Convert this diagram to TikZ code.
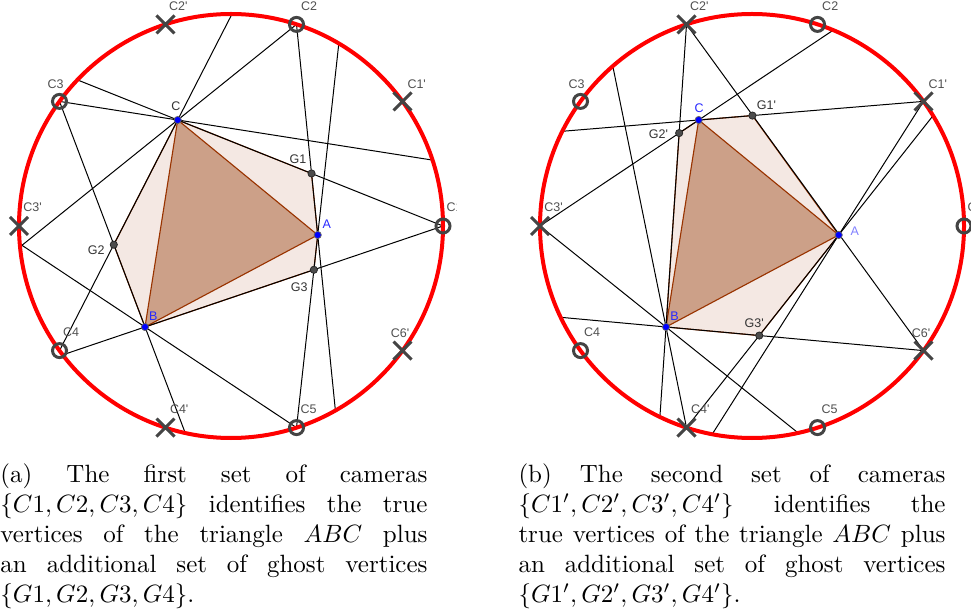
\documentclass[tikz,border=0pt]{standalone}
\usepackage{fontspec}
\usepackage{tikz}
\usetikzlibrary{calc,shapes.misc}
\newfontfamily\geofont{Liberation Sans}
\definecolor{polybrown}{RGB}{153,51,0}
\definecolor{trifill}{RGB}{204,160,136}
\definecolor{ghostfill}{RGB}{244,232,227}
\definecolor{markgray}{RGB}{68,68,68}
\definecolor{lblgray}{RGB}{80,80,80}
\definecolor{vertblue}{RGB}{40,40,255}
\newcommand{\pr}{\textquotesingle}
% camera spots on the ring (same for both panels)
\newcommand{\camspots}{%
  \coordinate (O) at (231,226);
  \coordinate (c1) at (443,226);
  \coordinate (c1x) at (402.5,101.4);
  \coordinate (c2) at (296.5,24.4);
  \coordinate (c2x) at (165.5,24.4);
  \coordinate (c3) at (59.5,101.4);
  \coordinate (c3x) at (19,226);
  \coordinate (c4) at (59.5,350.6);
  \coordinate (c4x) at (165.5,427.6);
  \coordinate (c5) at (296.5,427.6);
  \coordinate (c6x) at (402.5,350.6);
  \coordinate (A) at (317.7,235);
  \coordinate (B) at (145,327);
  \coordinate (C) at (177.7,120);
}
\newcommand{\camring}{%
  \draw[rim] (O) circle[radius=212];
  \node[camo] (k1) at (c1) {};
  \node[camx] (k1x) at (c1x) {};
  \node[camo] (k2) at (c2) {};
  \node[camx] (k2x) at (c2x) {};
  \node[camo] (k3) at (c3) {};
  \node[camx] (k3x) at (c3x) {};
  \node[camo] (k4) at (c4) {};
  \node[camx] (k4x) at (c4x) {};
  \node[camo] (k5) at (c5) {};
  \node[camx] (k6x) at (c6x) {};
  \node[lbl] (n1) at ($(c1)+(11.5,-18.5)$) {C1};
  \node[lbl] (n1x) at ($(c1x)+(14.2,-17.4)$) {C1\pr};
  \node[lbl] (n2) at ($(c2)+(12.7,-18)$) {C2};
  \node[lbl] (n2x) at ($(c2x)+(12.8,-17.7)$) {C2\pr};
  \node[lbl] (n3) at ($(c3)+(-4,-17.4)$) {C3};
  \node[lbl] (n3x) at ($(c3x)+(13.5,-18.3)$) {C3\pr};
  \node[lbl] (n4) at ($(c4)+(11.7,-18.6)$) {C4};
  \node[lbl] (n4x) at ($(c4x)+(13.7,-18.9)$) {C4\pr};
  \node[lbl] (n5) at ($(c5)+(12,-18.9)$) {C5};
  \node[lbl] (n6x) at ($(c6x)+(-2.5,-17.3)$) {C6\pr};
}

\begin{document}
\begin{tikzpicture}[x=0.4pt, y=-0.4pt,
    rim/.style={draw=red, line width=1.6pt},
    ray/.style={draw=black, line width=0.4pt},
    hexa/.style={fill=ghostfill, draw=polybrown, line width=0.45pt},
    tri/.style={fill=trifill, draw=polybrown, line width=0.45pt},
    camo/.style={circle, draw=markgray, line width=1.2pt, inner sep=0pt, minimum size=5.6pt},
    camx/.style={cross out, draw=markgray, line width=1.2pt, inner sep=0pt, minimum size=6pt},
    truept/.style={circle, fill=blue, draw=black!60, line width=0.3pt, inner sep=0pt, minimum size=2.9pt},
    ghostpt/.style={circle, fill=black!70, draw=black!85, line width=0.3pt, inner sep=0pt, minimum size=2.9pt},
    lbl/.style={font=\geofont\fontsize{5pt}{6pt}\selectfont, text=lblgray, inner sep=0pt},
    vlbl/.style={lbl, text=vertblue},
    capbox/.style={anchor=north west, text width=170.8pt, align=justify, inner sep=0pt, font=\fontsize{10pt}{12pt}\selectfont},
]
    \useasboundingbox (0,0) rectangle (971,611);

    % (a) first set of cameras
    \begin{scope}[name prefix=L-]
        \clip (0,0) rectangle (456.5,450);
        \camspots
        \coordinate (G1) at (intersection of c1--C and c2--A);
        \coordinate (G2) at (intersection of c4--C and c3--B);
        \coordinate (G3) at (intersection of c5--A and c1--B);
        % ray ends on the ring
        \coordinate (e1) at (77.4,79.9);
        \coordinate (e2) at (20.1,246.8);
        \coordinate (e3) at (335.4,410.6);
        \coordinate (e4) at (432.5,160.1);
        \coordinate (e5) at (232.0,14.0);
        \coordinate (e6) at (338.8,43.6);
        \coordinate (e7) at (62.6,354.9);
        \coordinate (e8) at (19.7,243.8);
        \coordinate (e9) at (185.2,432.9);

        \draw[hexa] (C) -- (G1) -- (A) -- (G3) -- (B) -- (G2) -- cycle;
        \draw[tri] (A) -- (B) -- (C) -- cycle;

        \draw[ray] (c1) -- (e1);
        \draw[ray] (c2) -- (e2);
        \draw[ray] (c2) -- (e3);
        \draw[ray] (c3) -- (e4);
        \draw[ray] (c4) -- (e5);
        \draw[ray] (c5) -- (e6);
        \draw[ray] (c1) -- (e7);
        \draw[ray] (c5) -- (e8);
        \draw[ray] (c3) -- (e9);

        \camring

        \node[ghostpt] (p1) at (G1) {};
        \node[ghostpt] (p2) at (G2) {};
        \node[ghostpt] (p3) at (G3) {};
        \node[truept] (pA) at (A) {};
        \node[truept] (pB) at (B) {};
        \node[truept] (pC) at (C) {};
        \node[lbl, text=black!80] (g1) at ($(G1)+(-13.5,-14.7)$) {G1};
        \node[lbl, text=black!80] (g2) at ($(G2)+(-17.6,5.3)$) {G2};
        \node[lbl, text=black!80] (g3) at ($(G3)+(-14.7,17.4)$) {G3};
        \node[vlbl] (la) at ($(A)+(9,-10.3)$) {A};
        \node[vlbl] (lb) at ($(B)+(8.3,-10.7)$) {B};
        \node[lbl, text=black!80] (lc) at ($(C)+(-1.9,-14.2)$) {C};
    \end{scope}

    % (b) second set of cameras
    \begin{scope}[shift={(521,0)}, name prefix=R-]
        \camspots
        \coordinate (G1) at (intersection of c1x--C and c2x--A);
        \coordinate (G2) at (intersection of c3x--C and c2x--B);
        \coordinate (G3) at (intersection of c4x--A and c6x--B);
        % ray ends on the ring
        \coordinate (f2) at (41.3,131.3);
        \coordinate (f3) at (312.2,30.2);
        \coordinate (f4) at (138.9,416.9);
        \coordinate (f5) at (91.8,66.2);
        \coordinate (f6) at (191.2,434.2);
        \coordinate (f7) at (412.0,115.7);
        \coordinate (f8) at (277.1,432.9);
        \coordinate (f9) at (39.6,317.3);

        \draw[hexa] (C) -- (G1) -- (A) -- (G3) -- (B) -- (G2) -- cycle;
        \draw[tri] (A) -- (B) -- (C) -- cycle;

        \draw[ray] (c2x) -- (c6x);
        \draw[ray] (c1x) -- (f2);
        \draw[ray] (c3x) -- (f3);
        \draw[ray] (c2x) -- (f4);
        \draw[ray] (c4x) -- (f5);
        \draw[ray] (c1x) -- (f6);
        \draw[ray] (c4x) -- (f7);
        \draw[ray] (c3x) -- (f8);
        \draw[ray] (c6x) -- (f9);

        \camring

        \node[ghostpt] (p1) at (G1) {};
        \node[ghostpt] (p2) at (G2) {};
        \node[ghostpt] (p3) at (G3) {};
        \node[truept] (pA) at (A) {};
        \node[truept] (pB) at (B) {};
        \node[truept] (pC) at (C) {};
        \node[lbl, text=black!80] (g1) at ($(G1)+(14,-10)$) {G1\pr};
        \node[lbl, text=black!80] (g2) at ($(G2)+(-20.8,1.1)$) {G2\pr};
        \node[lbl, text=black!80] (g3) at ($(G3)+(-5,-12.2)$) {G3\pr};
        \node[vlbl, text=blue!50] (la) at ($(A)+(16,-3.3)$) {A};
        \node[vlbl] (lb) at ($(B)+(8.5,-10.3)$) {B};
        \node[vlbl] (lc) at ($(C)+(0.5,-11.5)$) {C};
    \end{scope}

    % Captions
    \node[capbox] (capa) at (0,463) {(a) The first set of cameras\linebreak
        $\{C1,C2,C3,C4\}$ identifies the true\linebreak
        vertices of the triangle $ABC$ plus\linebreak
        an additional set of ghost vertices\linebreak
        $\{G1,G2,G3,G4\}$.};
    \node[capbox] (capb) at (518,463) {(b) The second set of cameras\linebreak
        $\{C1',C2',C3',C4'\}$ identifies the\linebreak
        true vertices of the triangle $ABC$ plus\linebreak
        an additional set of ghost vertices\linebreak
        $\{G1',G2',G3',G4'\}$.};
\end{tikzpicture}
\end{document}
